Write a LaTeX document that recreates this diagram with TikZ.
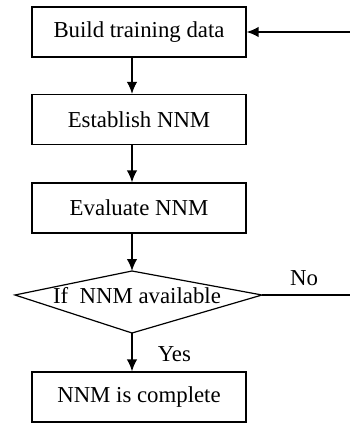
\documentclass[tikz,border=0pt]{standalone}
\usepackage{fontspec}
\setmainfont{Liberation Serif}
\usetikzlibrary{positioning,arrows.meta}
\tikzset{>={Latex[length=12pt,width=10.5pt]}}
\tikzset{
  stepbox/.style={draw, rectangle, line width=1.2pt, minimum width=214pt, minimum height=50pt, inner sep=0pt},
  flow/.style={->, line width=1.6pt},
  lbl/.style={inner sep=0pt}
}

\begin{document}
\begin{tikzpicture}[x=1pt, y=-1pt, font=\fontsize{22.8}{27}\selectfont]
      \useasboundingbox (0,0) rectangle (350,425);
      \node[stepbox] (n0) at (139,32) {Build training data};
      \node[stepbox, below of=n0, node distance=87.5pt] (n1) {Establish NNM};
      \node[stepbox, below of=n1, node distance=88.5pt] (n2) {Evaluate NNM};
      % decision, drawn by hand (upper half is flatter)
      \coordinate (dtop) at (132,271);
      \coordinate (dleft) at (15,295);
      \coordinate (dright) at (262,295);
      \coordinate (dbot) at (132,333);
      \draw[line width=1.2pt] (dtop) -- (dright) -- (dbot) -- (dleft) -- cycle;
      \node[lbl] (n3) at (137,296) {If\ \ NNM available};
      \node[stepbox] (n4) at (139,397) {NNM is complete};
      \coordinate (aux1) at (350,32);
      \coordinate (aux2) at (350,295);
      \draw[flow] (n0.south -| dtop) -- (n1.north -| dtop);
      \draw[flow] (n1.south -| dtop) -- (n2.north -| dtop);
      \draw[flow] (n2.south -| dtop) -- (dtop);
      \draw[flow] (dbot) -- node[right=25pt, lbl, yshift=-2pt]{Yes} (n4.north -| dbot);
      \draw[line width=1.2pt] (dright) -- node[above=9pt, lbl, xshift=-2pt]{No} (aux2);
      \draw[flow] (aux1) -- (n0.east);
    \end{tikzpicture}
\end{document}
